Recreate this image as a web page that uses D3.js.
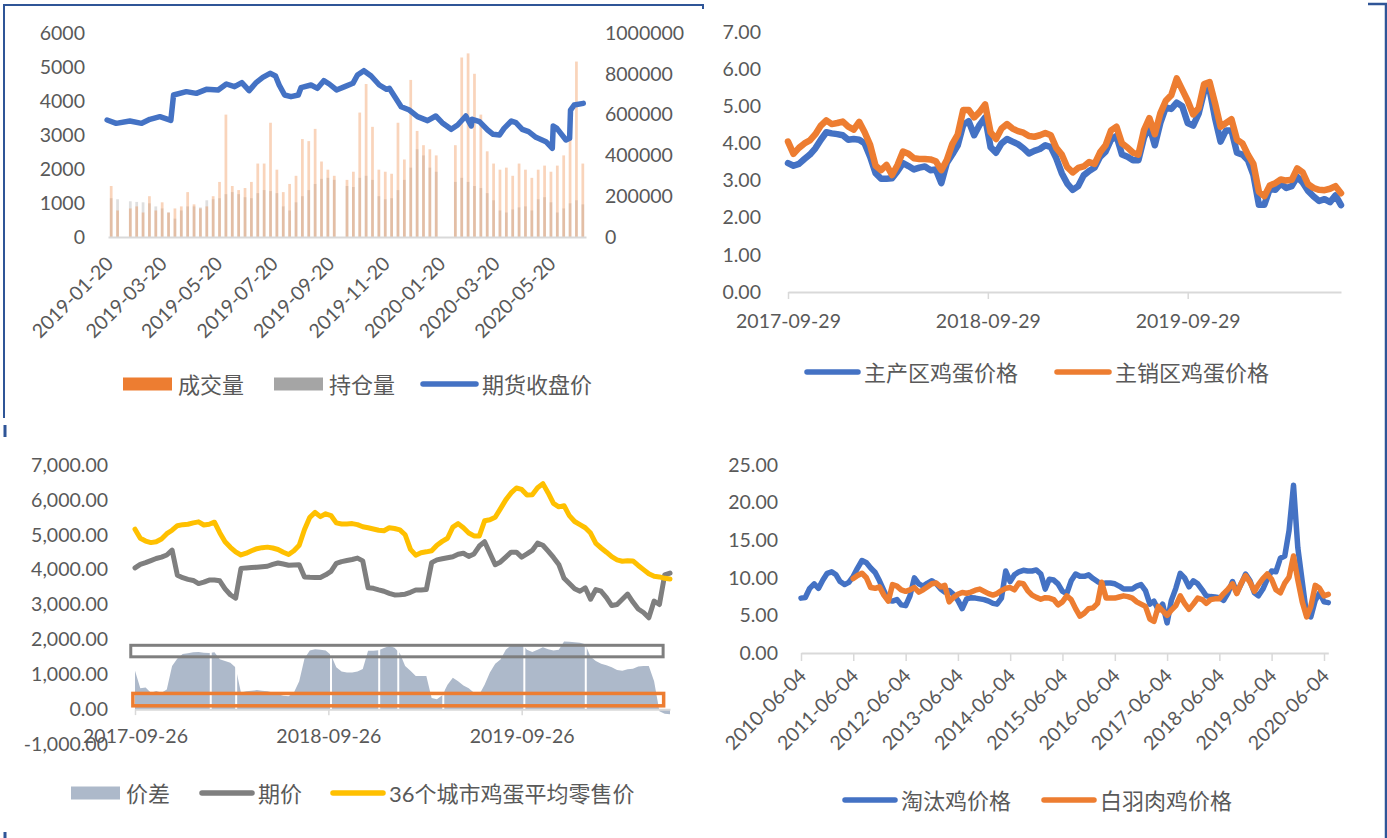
<!DOCTYPE html>
<html lang="zh">
<head>
<meta charset="utf-8">
<title>鸡蛋期现价格</title>
<script src="https://cdn.jsdelivr.net/npm/d3@7"></script>
<style>
  body { margin: 0; background: #fff; }
  svg text { font-family: Lato, "Noto Sans CJK SC", sans-serif; fill: #595959; }
</style>
</head>
<body>
<script>
// ---------- panel 1: futures close, volume, open interest ----------
var p1CloseDates = ["2019-01-18","2019-01-28","2019-02-12","2019-02-25","2019-03-06","2019-03-17","2019-03-29","2019-04-01",
  "2019-04-15","2019-04-26","2019-05-07","2019-05-20","2019-05-29","2019-06-07","2019-06-15","2019-06-23","2019-07-01",
  "2019-07-08","2019-07-16","2019-07-22","2019-07-26","2019-08-01","2019-08-08","2019-08-16","2019-08-19","2019-08-30",
  "2019-09-06","2019-09-13","2019-09-19","2019-09-27","2019-10-06","2019-10-15","2019-10-20","2019-10-27","2019-11-04",
  "2019-11-13","2019-11-21","2019-11-24","2019-11-30","2019-12-07","2019-12-16","2019-12-25","2020-01-05","2020-01-14",
  "2020-01-21","2020-01-31","2020-02-07","2020-02-16","2020-02-22","2020-02-23","2020-03-02","2020-03-11","2020-03-17",
  "2020-03-24","2020-03-29","2020-04-06","2020-04-11","2020-04-18","2020-04-25","2020-05-03","2020-05-14","2020-05-21",
  "2020-05-22","2020-05-26","2020-06-05","2020-06-09","2020-06-10","2020-06-14","2020-06-24"];
var p1Close = [3441,3343,3412,3343,3461,3539,3430,4176,
  4275,4225,4343,4324,4500,4422,4539,4304,4550,
  4696,4814,4735,4471,4176,4127,4176,4392,4471,
  4373,4598,4500,4324,4422,4520,4765,4892,4735,
  4471,4343,4373,4127,3833,3735,3539,3422,3559,
  3363,3167,3294,3559,3265,3461,3392,3147,3020,
  3000,3196,3412,3363,3167,3098,2931,2804,2608,
  3265,3196,2853,2902,3735,3882,3931];

var p1Weeks = ["2019-01-21","2019-01-28","2019-02-11","2019-02-18","2019-02-25","2019-03-04","2019-03-11","2019-03-18","2019-03-25",
  "2019-04-01","2019-04-08","2019-04-15","2019-04-22","2019-04-29","2019-05-06","2019-05-13","2019-05-20","2019-05-27",
  "2019-06-03","2019-06-10","2019-06-17","2019-06-24","2019-07-01","2019-07-08","2019-07-15","2019-07-22","2019-07-29",
  "2019-08-05","2019-08-12","2019-08-19","2019-08-26","2019-09-02","2019-09-09","2019-09-16","2019-09-23",
  "2019-10-07","2019-10-14","2019-10-21","2019-10-28","2019-11-04","2019-11-11","2019-11-18","2019-11-25",
  "2019-12-02","2019-12-09","2019-12-16","2019-12-23","2019-12-30","2020-01-06","2020-01-13",
  "2020-02-03","2020-02-10","2020-02-17","2020-02-24","2020-03-02","2020-03-09","2020-03-16","2020-03-23","2020-03-30",
  "2020-04-06","2020-04-13","2020-04-20","2020-04-27","2020-05-04","2020-05-11","2020-05-18","2020-05-25",
  "2020-06-01","2020-06-08","2020-06-15","2020-06-22"];
var p1Volume = [250000,130000,140000,150000,120000,200000,130000,170000,120000,
  140000,150000,220000,160000,140000,150000,200000,270000,600000,
  250000,230000,240000,270000,360000,360000,560000,330000,220000,
  260000,300000,480000,470000,530000,370000,330000,300000,
  280000,320000,610000,750000,540000,330000,320000,310000,
  560000,380000,770000,520000,450000,430000,400000,
  450000,880000,900000,800000,600000,420000,360000,330000,340000,
  300000,360000,330000,290000,330000,350000,320000,350000,
  400000,480000,860000,360000];
var p1OpenInt = [190000,185000,175000,172000,170000,165000,150000,140000,120000,
  90000,130000,150000,150000,145000,180000,185000,190000,210000,
  220000,210000,195000,190000,215000,230000,225000,215000,150000,
  130000,170000,200000,230000,260000,285000,290000,280000,
  250000,245000,290000,300000,280000,200000,185000,190000,
  230000,280000,340000,430000,400000,340000,320000,
  270000,290000,270000,250000,240000,215000,180000,130000,120000,
  135000,145000,150000,130000,185000,195000,170000,120000,
  140000,165000,180000,160000];
var p1LeftTicks = [0,1000,2000,3000,4000,5000,6000];
var p1RightTicks = [0,200000,400000,600000,800000,1000000];
var p1DateTicks = ["2019-01-20","2019-03-20","2019-05-20","2019-07-20","2019-09-20","2019-11-20","2020-01-20","2020-03-20","2020-05-20"];

// ---------- panel 2: egg prices, producing vs selling areas (10-day samples) ----------
var p2Start = "2017-09-29";
var p2Producing = [3.47,3.40,3.45,3.58,3.70,3.87,4.10,4.30,4.27,4.25,
  4.22,4.10,4.12,4.10,4.00,3.64,3.20,3.05,3.05,3.06,
  3.25,3.47,3.39,3.30,3.35,3.38,3.28,3.30,2.93,3.47,
  3.70,3.95,4.50,4.60,4.22,4.50,4.70,3.90,3.75,4.00,
  4.12,4.05,3.98,3.87,3.73,3.80,3.85,3.95,3.90,3.60,
  3.20,2.92,2.75,2.85,3.14,3.26,3.35,3.64,3.78,4.10,
  4.20,3.70,3.64,3.55,3.55,4.15,4.47,3.95,4.55,4.97,
  4.93,5.10,5.00,4.55,4.48,4.80,5.40,5.45,4.68,4.05,
  4.35,4.35,3.75,3.70,3.55,3.15,2.35,2.35,2.78,2.75,
  2.92,2.80,2.85,3.10,2.95,2.72,2.57,2.45,2.50,2.42,
  2.60,2.34];
var p2Selling = [4.05,3.72,3.88,4.00,4.08,4.25,4.48,4.62,4.52,4.55,
  4.59,4.45,4.37,4.58,4.30,3.96,3.40,3.28,3.42,3.15,
  3.42,3.78,3.72,3.60,3.58,3.58,3.57,3.52,3.28,3.55,
  3.98,4.24,4.90,4.90,4.70,4.85,5.05,4.30,4.12,4.40,
  4.52,4.40,4.33,4.29,4.20,4.18,4.22,4.28,4.22,3.88,
  3.70,3.36,3.22,3.34,3.38,3.50,3.45,3.76,3.95,4.35,
  4.45,4.00,3.89,3.75,3.70,4.35,4.68,4.25,4.81,5.15,
  5.30,5.75,5.45,5.15,4.78,4.95,5.60,5.65,5.08,4.45,
  4.55,4.65,4.10,4.00,3.70,3.45,2.70,2.58,2.87,2.93,
  3.03,3.00,3.02,3.33,3.22,2.90,2.80,2.75,2.74,2.78,
  2.85,2.66];
var p2YTicks = [0,1,2,3,4,5,6,7];
var p2DateTicks = ["2017-09-29","2018-09-29","2019-09-29"];

// ---------- panel 3: spread, futures, 36-city retail (10-day samples) ----------
var p3Start = "2017-09-26";
var p3Spread = [1100,600,620,470,520,470,560,1240,1450,1580,
  1600,1630,1640,1620,1610,1630,1430,1380,1330,1190,
  480,510,530,545,530,516,480,430,380,370,
  480,800,1450,1680,1720,1700,1680,1550,1200,1080,
  1050,1047,1080,1150,1675,1675,1690,1750,1810,1760,
  1600,1240,1100,950,950,950,320,280,400,700,
  900,800,680,600,470,419,700,1050,1300,1420,
  1700,1830,1850,1870,1700,1640,1700,1773,1720,1680,
  1700,1939,1930,1920,1900,1860,1500,1380,1300,1260,
  1200,1120,1100,1140,1160,1220,1235,1240,800,-60,
  -130,-150];
var p3Futures = [4050,4150,4200,4260,4320,4360,4420,4560,3840,3770,
  3720,3690,3600,3640,3700,3700,3680,3450,3280,3180,
  4030,4050,4060,4070,4085,4097,4150,4191,4160,4125,
  4135,4140,3790,3780,3775,3775,3850,3950,4180,4230,
  4260,4290,4330,4250,3480,3465,3420,3380,3320,3275,
  3280,3295,3350,3416,3416,3430,4200,4280,4310,4340,
  4370,4440,4470,4380,4450,4676,4800,4470,4140,4220,
  4360,4500,4500,4360,4450,4550,4760,4700,4530,4350,
  4150,3750,3600,3450,3380,3480,3150,3430,3380,3200,
  2970,3000,3150,3300,3070,2870,2770,2620,3100,3000,
  3850,3900];
var p3Retail = [5160,4900,4820,4775,4800,4880,5030,5130,5260,5290,
  5300,5340,5370,5280,5300,5360,5060,4800,4640,4510,
  4420,4470,4540,4600,4630,4645,4620,4578,4500,4435,
  4540,4700,5150,5500,5640,5520,5600,5550,5340,5310,
  5310,5320,5290,5230,5200,5165,5130,5115,5200,5180,
  5140,5000,4580,4415,4484,4510,4540,4700,4810,4900,
  5220,5320,5200,5050,4966,4966,5400,5430,5500,5750,
  6000,6200,6340,6300,6140,6150,6350,6466,6200,5900,
  5800,5830,5550,5380,5290,5200,5050,4750,4620,4500,
  4370,4280,4240,4255,4250,4120,4000,3880,3810,3790,
  3750,3730];
var p3Gaps = ["2018-02-16","2018-04-05","2018-10-01","2018-12-31","2019-02-05","2019-05-01","2019-10-01","2020-01-25"];
var p3BoxFrom = ["2017-09-18","2017-09-22"];
var p3BoxTo = ["2020-06-19","2020-06-20"];
var p3BoxLow = [1500,95];
var p3BoxHigh = [1830,450];
var p3YTicks = [-1000,0,1000,2000,3000,4000,5000,6000,7000];
var p3DateTicks = ["2017-09-26","2018-09-26","2019-09-26"];

// ---------- panel 4: culled hen vs white-feather broiler (monthly) ----------
var p4CulledStart = "2010-06-04";
var p4Culled = [7.30,7.39,8.6,9.2,8.6,9.7,10.6,10.8,10.4,9.5,
  9.1,9.4,10.2,11.3,12.3,12.0,11.3,10.7,9.6,8.3,
  7.0,6.9,7.1,6.4,6.3,7.6,10.0,9.2,8.9,9.3,
  9.6,9.2,8.5,8.1,8.3,7.8,7.0,5.9,7.2,7.35,
  7.3,7.2,7.1,6.9,6.6,6.5,7.3,10.9,9.5,10.4,
  10.8,11.0,10.9,10.9,11.05,10.5,8.5,9.8,9.7,9.2,
  8.2,7.9,9.6,10.5,10.2,10.2,10.4,9.9,9.5,9.2,
  9.3,9.3,9.2,8.9,8.5,8.5,8.5,8.9,9.1,8.3,
  6.5,6.9,5.7,6.5,4.0,7.0,8.6,10.6,10.0,8.8,
  9.6,9.2,8.4,7.6,7.5,7.45,7.35,7.0,8.0,9.5,
  8.0,9.2,10.5,9.6,8.0,7.6,8.5,9.8,10.9,10.8,
  12.6,12.9,16.3,22.3,14.0,9.5,5.0,4.8,7.0,8.0,
  6.8,6.7];
var p4BroilerStart = "2011-06-04";
var p4Broiler = [9.9,10.3,10.6,10.0,8.7,8.6,8.8,7.7,6.9,9.1,
  8.9,8.4,8.2,8.4,8.7,8.1,8.4,8.8,9.2,9.3,
  8.8,9.0,6.8,7.4,7.8,8.05,7.95,8.1,8.35,8.5,
  8.2,7.9,7.7,7.9,8.3,8.6,8.7,8.4,9.3,9.2,
  8.3,7.7,7.4,7.15,7.35,7.3,7.1,6.4,6.8,7.6,
  7.1,5.9,4.9,5.3,5.9,6.0,6.6,9.4,7.3,7.3,
  7.3,7.45,7.6,7.5,7.3,6.8,6.5,6.2,4.5,4.2,
  6.2,5.6,5.0,5.7,6.3,7.6,6.6,5.8,6.5,7.3,
  7.1,6.6,7.1,7.2,7.2,7.9,8.5,9.2,7.9,9.3,
  10.3,9.4,8.2,9.1,9.9,10.5,9.8,8.4,8.0,9.3,
  10.1,12.9,9.7,6.8,4.8,6.2,9.0,8.6,7.6,7.8];
var p4YTicks = [0,5,10,15,20,25];
var p4DateTicks = ["2010-06-04","2011-06-04","2012-06-04","2013-06-04","2014-06-04","2015-06-04",
  "2016-06-04","2017-06-04","2018-06-04","2019-06-04","2020-06-04"];

// ---------- drawing ----------
var blue = "#4472C4", orange = "#ED7D31", darkGray = "#7F7F7F", yellow = "#FFC000";
var axisGray = "#D9D9D9", textGray = "#595959", frame = "#2F5597";
var tickFont = "19.5px", legendFont = "22px";

var parse = d3.timeParse("%Y-%m-%d");
var fmtDate = d3.timeFormat("%Y-%m-%d");

var svg = d3.select("body").append("svg")
  .attr("width", 1387)
  .attr("height", 838);

function cleanAxis(g) {
  g.attr("font-family", null).attr("font-size", null);
  g.selectAll("text").attr("fill", textGray).style("font-size", tickFont);
  g.selectAll(".tick line").attr("stroke", axisGray).attr("stroke-width", 1.5);
  g.select(".domain").attr("stroke", axisGray).attr("stroke-width", 2);
}

function legendLine(x1, x2, y, color, label) {
  svg.append("line").attr("x1", x1).attr("x2", x2).attr("y1", y).attr("y2", y)
    .attr("stroke", color).attr("stroke-width", 5.5).attr("stroke-linecap", "round");
  svg.append("text").attr("x", x2 + 6).attr("y", y).attr("dominant-baseline", "central")
    .style("font-size", legendFont).text(label);
}
function legendBox(x, y, color, label) {
  svg.append("rect").attr("x", x).attr("y", y - 6.5).attr("width", 49).attr("height", 13).attr("fill", color);
  svg.append("text").attr("x", x + 55).attr("y", y).attr("dominant-baseline", "central")
    .style("font-size", legendFont).text(label);
}

// ---- panel 1 ----
var x1 = d3.scaleTime().domain([parse("2019-01-19"), parse("2020-06-27")]).range([108, 586]);
var y1L = d3.scaleLinear().domain([0, 6000]).range([237, 33]);
var y1R = d3.scaleLinear().domain([0, 1000000]).range([237, 33]);

var weekDates = p1Weeks.map(parse);
function barW(d) { return x1(d3.timeDay.offset(d, 3)) - x1(d); }

svg.append("g").selectAll("rect").data(weekDates).enter().append("rect")
  .attr("x", function(d) { return x1(d); })
  .attr("width", barW)
  .attr("y", function(d, i) { return y1R(p1OpenInt[i]); })
  .attr("height", function(d, i) { return y1R(0) - y1R(p1OpenInt[i]); })
  .attr("fill", "#BFBFBF").attr("fill-opacity", 0.5);

svg.append("g").selectAll("rect").data(weekDates).enter().append("rect")
  .attr("x", function(d) { return x1(d); })
  .attr("width", barW)
  .attr("y", function(d, i) { return y1R(p1Volume[i]); })
  .attr("height", function(d, i) { return y1R(0) - y1R(p1Volume[i]); })
  .attr("fill", orange).attr("fill-opacity", 0.33);

var g1b = svg.append("g").attr("transform", "translate(0,237)")
  .call(d3.axisBottom(x1).tickValues(p1DateTicks.map(parse)).tickFormat(fmtDate).tickSize(0).tickSizeOuter(0));
cleanAxis(g1b);
g1b.selectAll("text").attr("y", 0).attr("dy", 0).attr("text-anchor", "end")
  .attr("transform", "translate(5,28) rotate(-45)");

var g1l = svg.append("g").attr("transform", "translate(85,0)")
  .call(d3.axisLeft(y1L).tickValues(p1LeftTicks).tickSize(0).tickPadding(0).tickFormat(d3.format("d")));
cleanAxis(g1l);
g1l.select(".domain").remove();

var g1r = svg.append("g").attr("transform", "translate(605,0)")
  .call(d3.axisRight(y1R).tickValues(p1RightTicks).tickSize(0).tickPadding(0).tickFormat(d3.format("d")));
cleanAxis(g1r);
g1r.select(".domain").remove();

var closeLine = d3.line()
  .x(function(d, i) { return x1(parse(p1CloseDates[i])); })
  .y(function(d) { return y1L(d); });
svg.append("path").attr("d", closeLine(p1Close))
  .attr("fill", "none").attr("stroke", blue).attr("stroke-width", 5.5)
  .attr("stroke-linejoin", "round").attr("stroke-linecap", "round");

legendBox(123, 384, orange, "成交量");
legendBox(274, 384, "#A5A5A5", "持仓量");
legendLine(423, 476, 384, blue, "期货收盘价");

// ---- panel 2 ----
var p2Dates = p2Producing.map(function(d, i) { return d3.timeDay.offset(parse(p2Start), i * 10); });
var x2 = d3.scaleTime().domain([parse("2017-09-29"), parse("2020-07-05")]).range([788, 1341]);
var y2 = d3.scaleLinear().domain([0, 7]).range([292, 32]);

var g2b = svg.append("g").attr("transform", "translate(0,292)")
  .call(d3.axisBottom(x2).tickValues(p2DateTicks.map(parse)).tickFormat(fmtDate).tickSize(7).tickSizeOuter(0).tickPadding(15));
cleanAxis(g2b);
var g2l = svg.append("g").attr("transform", "translate(761,0)")
  .call(d3.axisLeft(y2).tickValues(p2YTicks).tickSize(0).tickPadding(0).tickFormat(d3.format(".2f")));
cleanAxis(g2l);
g2l.select(".domain").remove();

var line2 = d3.line().x(function(d, i) { return x2(p2Dates[i]); }).y(function(d) { return y2(d); });
[[p2Producing, blue], [p2Selling, orange]].forEach(function(s) {
  svg.append("path").attr("d", line2(s[0]))
    .attr("fill", "none").attr("stroke", s[1]).attr("stroke-width", 6.5)
    .attr("stroke-linejoin", "round").attr("stroke-linecap", "round");
});
legendLine(807, 858, 372, blue, "主产区鸡蛋价格");
legendLine(1057, 1109, 372, orange, "主销区鸡蛋价格");

// ---- panel 3 ----
var p3Dates = p3Spread.map(function(d, i) { return d3.timeDay.offset(parse(p3Start), i * 10); });
var x3 = d3.scaleTime().domain([parse("2017-09-26"), parse("2020-07-02")]).range([135, 670]);
var y3 = d3.scaleLinear().domain([-1000, 7000]).range([744, 465]);

var g3l = svg.append("g").attr("transform", "translate(108,0)")
  .call(d3.axisLeft(y3).tickValues(p3YTicks).tickSize(0).tickPadding(0)
    .tickFormat(function(d) { return d3.format(",.2f")(d).replace("\u2212", "-"); }));
cleanAxis(g3l);
g3l.select(".domain").remove();

var area3 = d3.area().x(function(d, i) { return x3(p3Dates[i]); })
  .y0(y3(0)).y1(function(d) { return y3(d); });
svg.append("path").attr("d", area3(p3Spread)).attr("fill", "#ADB9CA");
svg.append("g").selectAll("line").data(p3Gaps).enter().append("line")
  .attr("x1", function(d) { return x3(parse(d)); }).attr("x2", function(d) { return x3(parse(d)); })
  .attr("y1", y3(0)).attr("y2", y3(2100))
  .attr("stroke", "#fff").attr("stroke-width", 2);

var g3b = svg.append("g").attr("transform", "translate(0," + y3(0) + ")")
  .call(d3.axisBottom(x3).tickValues(p3DateTicks.map(parse)).tickFormat(fmtDate).tickSize(6).tickSizeOuter(0).tickPadding(14));
cleanAxis(g3b);

var boxColors = [darkGray, orange];
p3BoxFrom.forEach(function(d, i) {
  svg.append("rect")
    .attr("x", x3(parse(d))).attr("y", y3(p3BoxHigh[i]))
    .attr("width", x3(parse(p3BoxTo[i])) - x3(parse(d)))
    .attr("height", y3(p3BoxLow[i]) - y3(p3BoxHigh[i]))
    .attr("fill", "none").attr("stroke", boxColors[i]).attr("stroke-width", i ? 3.5 : 3);
});

var line3 = d3.line().x(function(d, i) { return x3(p3Dates[i]); }).y(function(d) { return y3(d); });
[[p3Futures, darkGray], [p3Retail, yellow]].forEach(function(s) {
  svg.append("path").attr("d", line3(s[0]))
    .attr("fill", "none").attr("stroke", s[1]).attr("stroke-width", 5)
    .attr("stroke-linejoin", "round").attr("stroke-linecap", "round");
});
legendBox(71, 793, "#ADB9CA", "价差");
legendLine(202, 252, 793, darkGray, "期价");
legendLine(333, 383, 793, yellow, "36个城市鸡蛋平均零售价");

// ---- panel 4 ----
var x4 = d3.scaleTime().domain([parse("2010-06-04"), parse("2020-07-04")]).range([801, 1328.3]);
var y4 = d3.scaleLinear().domain([0, 25]).range([653, 465]);

var g4l = svg.append("g").attr("transform", "translate(778,0)")
  .call(d3.axisLeft(y4).tickValues(p4YTicks).tickSize(0).tickPadding(0).tickFormat(d3.format(".2f")));
cleanAxis(g4l);
g4l.select(".domain").remove();

var g4b = svg.append("g").attr("transform", "translate(0,653)")
  .call(d3.axisBottom(x4).tickValues(p4DateTicks.map(parse)).tickFormat(fmtDate).tickSize(8).tickSizeOuter(0));
cleanAxis(g4b);
g4b.selectAll("text").attr("y", 0).attr("dy", 0).attr("text-anchor", "end")
  .attr("transform", "translate(6,24) rotate(-45)");

function monthLine(start, vals, color) {
  var line = d3.line()
    .x(function(d, i) { return x4(d3.timeMonth.offset(parse(start), i)); })
    .y(function(d) { return y4(d); });
  svg.append("path").attr("d", line(vals))
    .attr("fill", "none").attr("stroke", color).attr("stroke-width", 5.5)
    .attr("stroke-linejoin", "round").attr("stroke-linecap", "round");
}
monthLine(p4CulledStart, p4Culled, blue);
monthLine(p4BroilerStart, p4Broiler, orange);
legendLine(845, 895, 800, blue, "淘汰鸡价格");
legendLine(1044, 1094, 800, orange, "白羽肉鸡价格");

// ---- page frame pieces ----
svg.append("path").attr("d", "M4,418V5H703V9").attr("fill", "none").attr("stroke", frame).attr("stroke-width", 2);
svg.append("path").attr("d", "M5,425V437M5,832V838").attr("stroke", frame).attr("stroke-width", 3);
svg.append("path").attr("d", "M1368,4H1386V838").attr("fill", "none").attr("stroke", frame).attr("stroke-width", 2.5);
</script>
</body>
</html>
